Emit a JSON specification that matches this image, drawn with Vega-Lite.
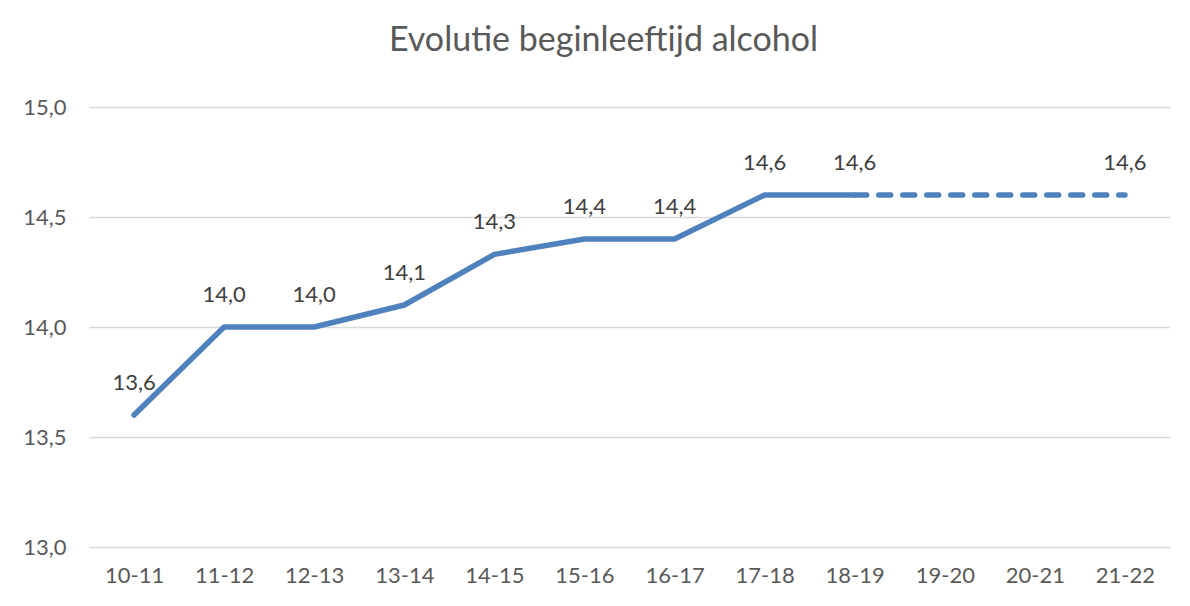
{
  "$schema": "https://vega.github.io/schema/vega-lite/v6.json",
  "width": 1081,
  "height": 440,
  "autosize": {"type": "none"},
  "padding": {"left": 89, "top": 107, "right": 20, "bottom": 59},
  "background": "white",
  "config": {
    "locale": {"number": {"decimal": ",", "thousands": ".", "grouping": [3], "currency": ["€", ""]}},
    "view": {"stroke": null},
    "font": "Lato"
  },
  "title": {
    "text": "Evolutie beginleeftijd alcohol",
    "font": "Lato",
    "fontSize": 34,
    "fontWeight": "normal",
    "color": "#595959",
    "anchor": "middle",
    "frame": "group",
    "dx": -26,
    "offset": 38
  },
  "data": {
    "values": [
      {"season": "10-11", "value": 13.6, "seg": "solid", "labeled": true},
      {"season": "11-12", "value": 14.0, "seg": "solid", "labeled": true},
      {"season": "12-13", "value": 14.0, "seg": "solid", "labeled": true},
      {"season": "13-14", "value": 14.1, "seg": "solid", "labeled": true},
      {"season": "14-15", "value": 14.33, "seg": "solid", "labeled": true},
      {"season": "15-16", "value": 14.4, "seg": "solid", "labeled": true},
      {"season": "16-17", "value": 14.4, "seg": "solid", "labeled": true},
      {"season": "17-18", "value": 14.6, "seg": "solid", "labeled": true},
      {"season": "18-19", "value": 14.6, "seg": "solid", "labeled": true},
      {"season": "18-19", "value": 14.6, "seg": "dashed", "labeled": false},
      {"season": "19-20", "value": 14.6, "seg": "dashed", "labeled": false},
      {"season": "20-21", "value": 14.6, "seg": "dashed", "labeled": false},
      {"season": "21-22", "value": 14.6, "seg": "dashed", "labeled": true}
    ]
  },
  "encoding": {
    "x": {
      "field": "season",
      "type": "ordinal",
      "sort": null,
      "scale": {"type": "point", "padding": 0.5},
      "axis": {
        "title": null,
        "labelAngle": 0,
        "ticks": false,
        "domain": false,
        "labelFont": "Lato",
        "labelFontSize": 22,
        "labelColor": "#595959",
        "labelPadding": 18
      }
    },
    "y": {
      "field": "value",
      "type": "quantitative",
      "scale": {"domain": [13, 15], "nice": false, "zero": false},
      "axis": {
        "title": null,
        "values": [13, 13.5, 14, 14.5, 15],
        "format": ".1f",
        "ticks": false,
        "domain": false,
        "grid": true,
        "gridColor": "#d9d9d9",
        "gridWidth": 1.4,
        "labelFont": "Lato",
        "labelFontSize": 22,
        "labelColor": "#595959",
        "labelPadding": 23
      }
    }
  },
  "layer": [
    {
      "transform": [{"filter": "datum.seg === 'solid'"}],
      "mark": {"type": "line", "color": "#4f81bd", "strokeWidth": 5.5, "strokeCap": "round", "strokeJoin": "round"}
    },
    {
      "transform": [{"filter": "datum.seg === 'dashed'"}],
      "mark": {"type": "line", "color": "#4f81bd", "strokeWidth": 5.5, "strokeCap": "round", "strokeJoin": "round", "strokeDash": [12, 12]}
    },
    {
      "transform": [{"filter": "datum.labeled"}],
      "mark": {"type": "text", "font": "Lato", "fontSize": 22, "color": "#404040", "baseline": "middle", "dy": -32},
      "encoding": {
        "text": {"field": "value", "type": "quantitative", "format": ".1f"}
      }
    }
  ]
}
